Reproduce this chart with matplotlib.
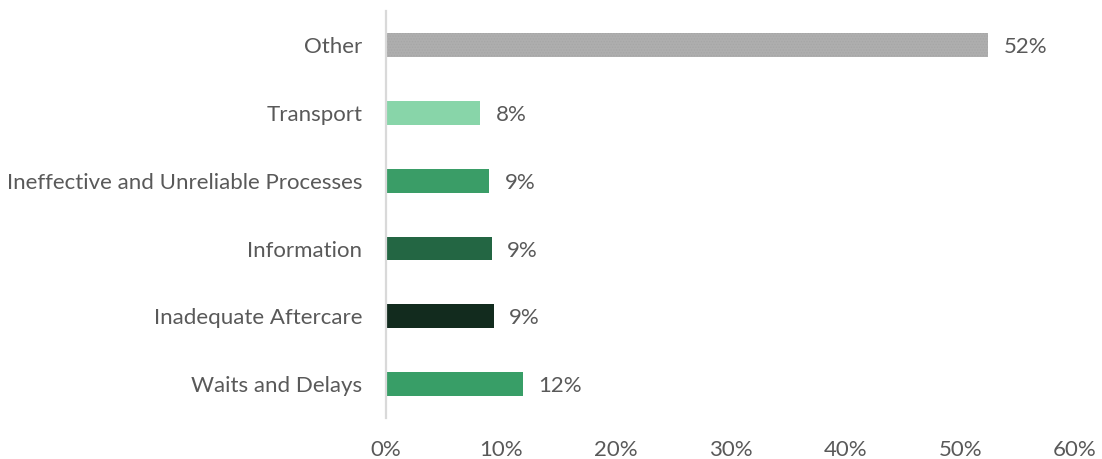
import matplotlib
matplotlib.use("Agg")
import matplotlib.pyplot as plt

categories = ["Waits and Delays", "Inadequate Aftercare", "Information",
              "Ineffective and Unreliable Processes", "Transport", "Other"]
shares = [11.9, 9.4, 9.2, 9.0, 8.2, 52.45]
bar_colors = ["#389E67", "#122B1E", "#236643", "#3A9D67", "#88D5A9", "#AEAEAE"]
x_ticks = [0, 10, 20, 30, 40, 50, 60]

plt.rcParams["font.family"] = ["Lato", "DejaVu Sans"]
plt.rcParams["hatch.linewidth"] = 0.6
text_color = "#595959"

fig = plt.figure(figsize=(11.02, 4.59), dpi=100)
ax = fig.add_axes([0.3503, 0.089, 0.6252, 0.887])

y = list(range(len(categories)))
bars = ax.barh(y, shares, height=0.35, color=bar_colors, zorder=2)
# subtle texture on the grey "Other" bar
bars[-1].set_hatch("......")
bars[-1].set_edgecolor("#A6A6A6")
bars[-1].set_linewidth(0)

for yi, v in zip(y, shares):
    ax.annotate(f"{round(v):d}%", xy=(v, yi), xytext=(11, -1.5),
                textcoords="offset points", va="center", ha="left",
                fontsize=16, color=text_color)

ax.set_xlim(0, 60)
ax.set_ylim(-0.5, len(categories) - 0.5)
ax.set_xticks(x_ticks)
ax.set_xticklabels([f"{t}%" for t in x_ticks])
ax.set_yticks(y)
ax.set_yticklabels(categories)
ax.tick_params(axis="both", length=0, labelsize=16, labelcolor=text_color)
ax.tick_params(axis="x", pad=16)
ax.tick_params(axis="y", pad=17)

for side in ("top", "right", "bottom"):
    ax.spines[side].set_visible(False)
ax.spines["left"].set_color("#D9D9D9")
ax.spines["left"].set_linewidth(1.6)

fig.savefig("out.png", dpi=100, facecolor="white")
